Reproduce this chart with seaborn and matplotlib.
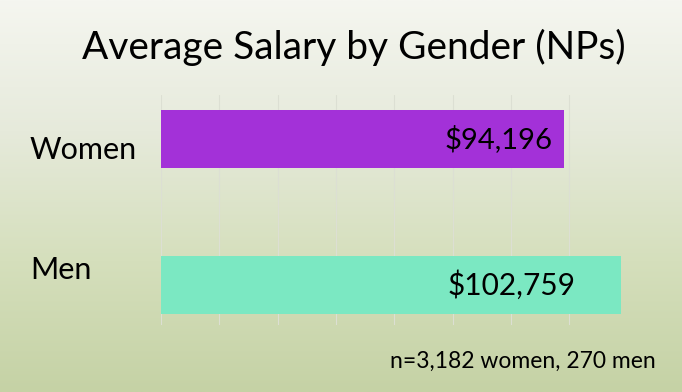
import numpy as np
import pandas as pd
import matplotlib
matplotlib.use("Agg")
import matplotlib.pyplot as plt
import matplotlib.transforms as mtransforms
from matplotlib.colors import LinearSegmentedColormap
import seaborn as sns

# ---- data ----
categories = ["Women", "Men"]
salaries = [94196, 102759]
value_labels = ["$94,196", "$102,759"]
title = "Average Salary by Gender (NPs)"
footnote = "n=3,182 women, 270 men"

# ---- style ----
bar_colors = ["#a331d8", "#7be8c2"]
label_offsets_px = [12, 46]
cat_label_dy = [0.075, -0.10]

sns.set_theme(style="white")
plt.rcParams["font.family"] = ["Lato", "DejaVu Sans"]

W, H = 682, 392
fig = plt.figure(figsize=(W / 100, H / 100), dpi=100)

# gradient background
bg = fig.add_axes([0, 0, 1, 1], zorder=-10)
cmap = LinearSegmentedColormap.from_list(
    "bg", ["#f5f6f0", "#e6eadb", "#d5dfbc", "#c5d2a5"])
grad = np.linspace(0, 1, 256).reshape(-1, 1)
bg.imshow(grad, aspect="auto", cmap=cmap, extent=[0, 1, 0, 1], origin="upper")
bg.set_axis_off()

# main axes (pixel placement)
ax_l, ax_r, ax_t, ax_b = 161, 626, 95, 325
ax = fig.add_axes([ax_l / W, 1 - ax_b / H, (ax_r - ax_l) / W, (ax_b - ax_t) / H])
ax.patch.set_alpha(0)

df = pd.DataFrame({"category": categories, "salary": salaries})
sns.barplot(data=df, x="salary", y="category", hue="category",
            palette=bar_colors, orient="h", width=0.4, legend=False,
            ax=ax, zorder=3, saturation=1, linewidth=0, edgecolor="none")

xmin = 33650
px_per_dollar = 0.006657
xmax = xmin + (ax_r - ax_l) / px_per_dollar
ax.set_xlim(xmin, xmax)
ax.set_ylim(1.274, -0.30)

step = 8758
ax.set_xticks(np.arange(xmin, xmax, step))
ax.grid(axis="x", color="#dcdfd3", linewidth=0.8, zorder=0)
ax.tick_params(left=False, bottom=False, labelleft=False, labelbottom=False)
for s in ax.spines.values():
    s.set_visible(False)
ax.set_xlabel("")
ax.set_ylabel("")

# value labels inside bars
value_fs = [21, 21.5]
for i, (v, lab) in enumerate(zip(salaries, value_labels)):
    off = mtransforms.offset_copy(ax.transData, fig=fig,
                                  x=-label_offsets_px[i] * 72 / 100, y=0,
                                  units="points")
    ax.text(v, i, lab, transform=off, ha="right", va="center",
            fontsize=value_fs[i], color="black", zorder=5)

# category labels, left aligned
trans = mtransforms.blended_transform_factory(fig.transFigure, ax.transData)
for i, cat in enumerate(categories):
    ax.text(30 / W, i + cat_label_dy[i], cat, transform=trans,
            ha="left", va="center", fontsize=22, color="black")

fig.text(354 / W, 1 - 47 / H, title, ha="center", va="center",
         fontsize=28, color="black")
fig.text(656 / W, 1 - 361 / H, footnote, ha="right", va="center",
         fontsize=16.5, color="black")

fig.savefig("out.png", dpi=100)
